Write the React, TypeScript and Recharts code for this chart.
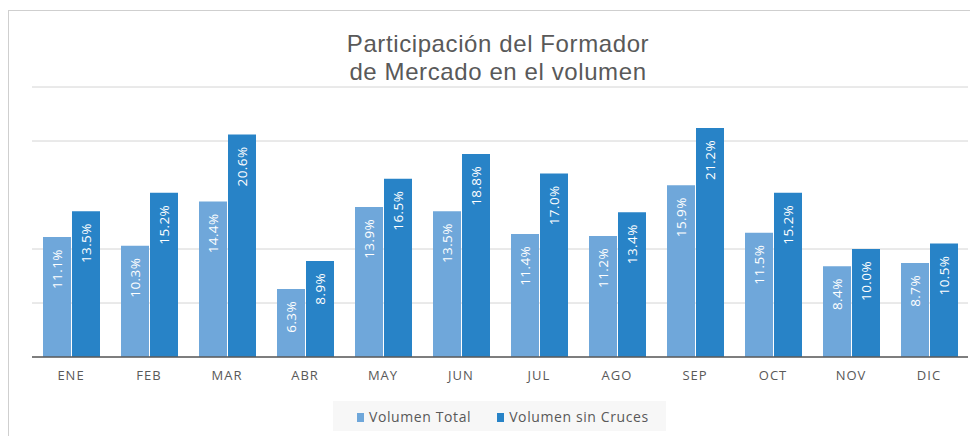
import React from 'react';
import { BarChart, Bar, XAxis, YAxis, CartesianGrid, Legend, LabelList } from 'recharts';

const months = ['ENE', 'FEB', 'MAR', 'ABR', 'MAY', 'JUN', 'JUL', 'AGO', 'SEP', 'OCT', 'NOV', 'DIC'];
const volumenTotal = [11.1, 10.3, 14.4, 6.3, 13.9, 13.5, 11.4, 11.2, 15.9, 11.5, 8.4, 8.7];
const volumenSinCruces = [13.5, 15.2, 20.6, 8.9, 16.5, 18.8, 17.0, 13.4, 21.2, 15.2, 10.0, 10.5];
const yTicks = [0, 5, 10, 20, 25];
const seriesNames = ['Volumen Total', 'Volumen sin Cruces'];
const titleLines = ['Participación del Formador', 'de Mercado en el volumen'];

const data = months.map((m, i) => ({ mes: m, total: volumenTotal[i], sinCruces: volumenSinCruces[i] }));

const LIGHT = '#6fa7da';
const DARK = '#2883c7';
const FONT = '"Open Sans", "Noto Sans", sans-serif';
const TITLE_FONT = '"Liberation Sans", Arial, sans-serif';

const renderLabel = (props: any) => {
  const { x, y, width, value } = props;
  const cx = Number(x) + Number(width) / 2;
  const ty = Number(y) + 12;
  return (
    <text
      x={cx}
      y={ty}
      transform={`rotate(-90, ${cx}, ${ty})`}
      textAnchor="end"
      dominantBaseline="central"
      fill="#ffffff"
      fontSize={13.5}
      fontFamily={FONT}
      letterSpacing={0.4}
    >
      {`${Number(value).toFixed(1)}%`}
    </text>
  );
};

const LegendContent = () => (
  <div
    style={{
      background: '#f7f7f7',
      height: 30,
      width: 333,
      display: 'flex',
      alignItems: 'center',
      fontFamily: FONT,
      fontSize: 14,
      color: '#595959',
      letterSpacing: 0.6,
      boxSizing: 'border-box',
      paddingLeft: 24,
      whiteSpace: 'nowrap',
    }}
  >
    <span style={{ display: 'inline-block', width: 7, height: 9, background: LIGHT, marginRight: 5, marginTop: 3 }} />
    <span style={{ marginRight: 26 }}>{seriesNames[0]}</span>
    <span style={{ display: 'inline-block', width: 7, height: 9, background: DARK, marginRight: 5, marginTop: 3 }} />
    <span>{seriesNames[1]}</span>
  </div>
);

export default function App() {
  return (
    <div
      style={{
        position: 'relative',
        width: 970,
        height: 426,
        marginTop: 2,
        borderTop: '1px solid #cfcfcf',
        borderLeft: '1px solid #cfcfcf',
        boxSizing: 'border-box',
      }}
    >
      <div
        style={{
          position: 'absolute',
          left: 0,
          top: 19,
          width: 978,
          textAlign: 'center',
          fontFamily: TITLE_FONT,
          fontSize: 24,
          lineHeight: '28px',
          letterSpacing: 0.6,
          color: '#595959',
          pointerEvents: 'none',
        }}
      >
        <div>{titleLines[0]}</div>
        <div>{titleLines[1]}</div>
      </div>
      <BarChart
        width={969}
        height={425}
        data={data}
        margin={{ top: 76, right: 10, bottom: 5, left: 23 }}
        barSize={28}
        barGap={1}
      >
        <CartesianGrid vertical={false} stroke="#d4d4d4" />
        <YAxis hide domain={[0, 25]} ticks={yTicks} type="number" />
        <XAxis
          dataKey="mes"
          height={44}
          tickLine={false}
          tickSize={0}
          tickMargin={14}
          axisLine={{ stroke: '#5a5a5a', strokeWidth: 1.5 }}
          tick={{ fill: '#595959', fontSize: 13, fontFamily: FONT, letterSpacing: 1 }}
          interval={0}
        />
        <Legend
          content={<LegendContent />}
          verticalAlign="bottom"
          wrapperStyle={{ left: 324, width: 333, height: 30, bottom: 5 }}
        />
        <Bar dataKey="total" name={seriesNames[0]} fill={LIGHT} isAnimationActive={false}>
          <LabelList dataKey="total" content={renderLabel} />
        </Bar>
        <Bar dataKey="sinCruces" name={seriesNames[1]} fill={DARK} isAnimationActive={false}>
          <LabelList dataKey="sinCruces" content={renderLabel} />
        </Bar>
      </BarChart>
    </div>
  );
}
